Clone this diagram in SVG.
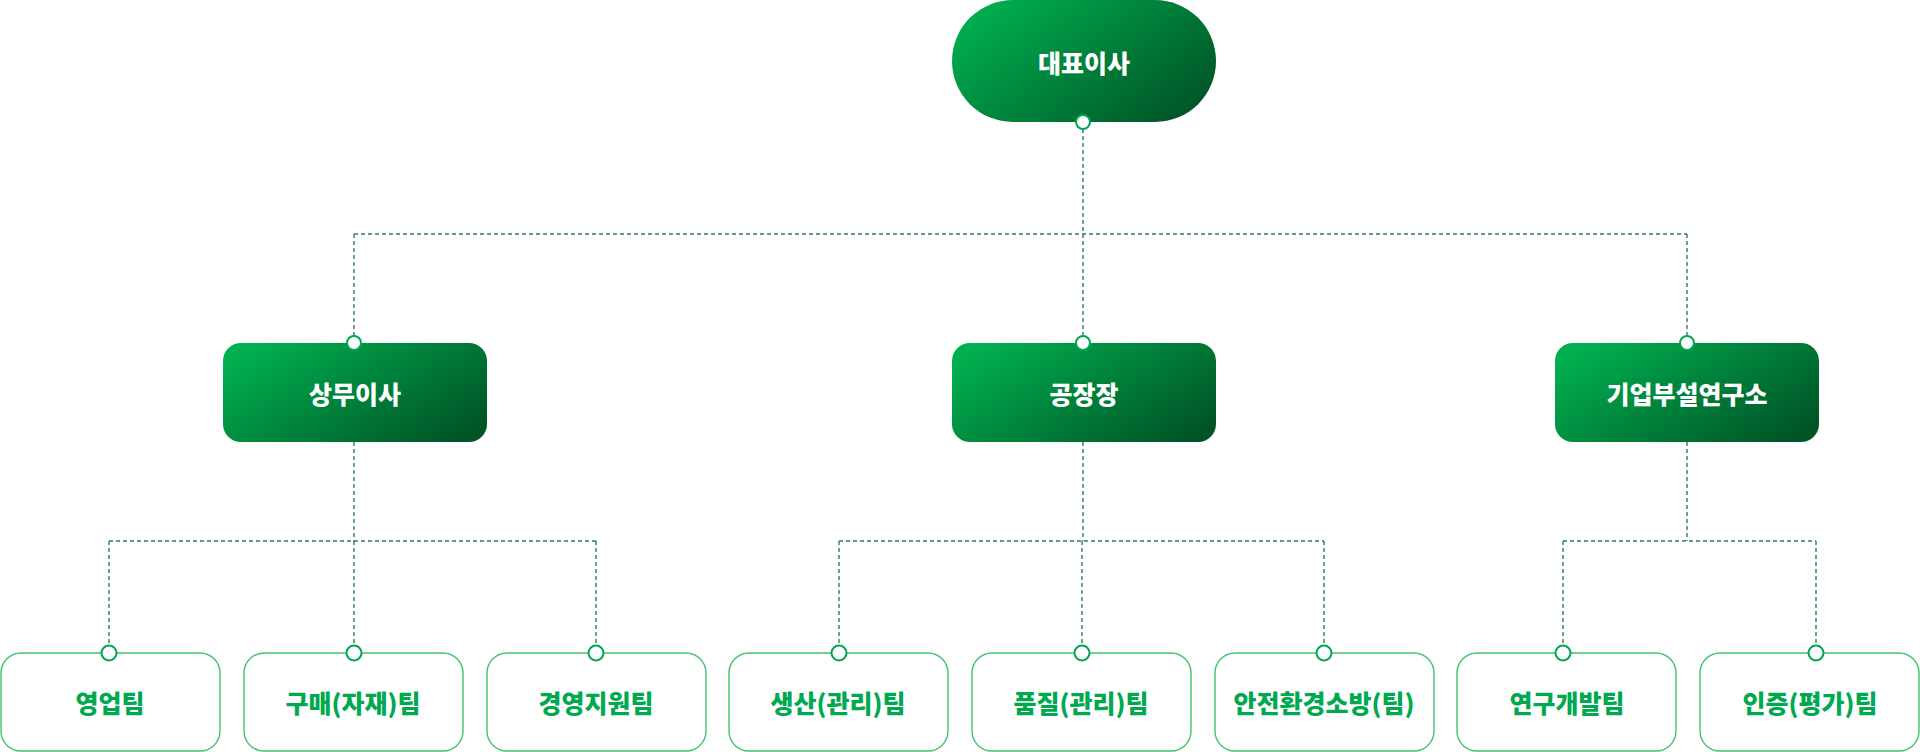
<svg xmlns="http://www.w3.org/2000/svg" width="1920" height="752" viewBox="0 0 1920 752">
<defs>
<linearGradient id="g" x1="0" y1="0.2" x2="1" y2="0.8">
<stop offset="0" stop-color="#00b050"/>
<stop offset="1" stop-color="#005426"/>
</linearGradient>
<style>
.main{fill:url(#g);}
.mt{font-family:"Noto Sans CJK KR","Noto Sans",sans-serif;font-weight:800;font-size:25px;fill:#ffffff;text-anchor:middle;dominant-baseline:central;}
.box{fill:#ffffff;stroke:#43c272;stroke-width:1.4;}
.bt{font-family:"Noto Sans CJK KR","Noto Sans",sans-serif;font-weight:800;font-size:25px;fill:#00a94f;text-anchor:middle;dominant-baseline:central;}
.ln{fill:none;stroke:#2f7d55;stroke-width:1.4;stroke-dasharray:4 3;}
.dot{fill:#ffffff;stroke:#00a651;stroke-width:2;}
</style>
</defs>
<rect width="1920" height="752" fill="#ffffff"/>
<g id="connectors">
<path class="ln" d="M1083 122V234M354 234H1687M354 234V343M1083 234V343M1687 234V343"/>
<path class="ln" d="M354 442V541M109 541H596M109 541V653M354 541V653M596 541V653"/>
<path class="ln" d="M1083 442V541M839 541H1324M839 541V653M1082 541V653M1324 541V653"/>
<path class="ln" d="M1687 442V541M1563 541H1816M1563 541V653M1816 541V653"/>
</g>
<g id="n-ceo"><rect class="main" x="952" y="0" width="264" height="122" rx="61"/><text class="mt" x="1084" y="62">대표이사</text><circle class="dot" cx="1083" cy="122" r="7"/></g>
<g id="n-sangmu"><rect class="main" x="223" y="343" width="264" height="99" rx="18"/><text class="mt" x="355" y="393">상무이사</text><circle class="dot" cx="354" cy="343" r="7"/></g>
<g id="n-factory"><rect class="main" x="952" y="343" width="264" height="99" rx="18"/><text class="mt" x="1084" y="393">공장장</text><circle class="dot" cx="1083" cy="343" r="7"/></g>
<g id="n-lab"><rect class="main" x="1555" y="343" width="264" height="99" rx="18"/><text class="mt" x="1687" y="393">기업부설연구소</text><circle class="dot" cx="1687" cy="343" r="7"/></g>
<g id="t1"><rect class="box" x="1" y="653" width="219" height="98" rx="20"/><text class="bt" x="110" y="702">영업팀</text><circle class="dot" cx="109" cy="653" r="7.5"/></g>
<g id="t2"><rect class="box" x="244" y="653" width="219" height="98" rx="20"/><text class="bt" x="353" y="702">구매(자재)팀</text><circle class="dot" cx="354" cy="653" r="7.5"/></g>
<g id="t3"><rect class="box" x="487" y="653" width="219" height="98" rx="20"/><text class="bt" x="596" y="702">경영지원팀</text><circle class="dot" cx="596" cy="653" r="7.5"/></g>
<g id="t4"><rect class="box" x="729" y="653" width="219" height="98" rx="20"/><text class="bt" x="838" y="702">생산(관리)팀</text><circle class="dot" cx="839" cy="653" r="7.5"/></g>
<g id="t5"><rect class="box" x="972" y="653" width="219" height="98" rx="20"/><text class="bt" x="1081" y="702">품질(관리)팀</text><circle class="dot" cx="1082" cy="653" r="7.5"/></g>
<g id="t6"><rect class="box" x="1215" y="653" width="219" height="98" rx="20"/><text class="bt" x="1324" y="702">안전환경소방(팀)</text><circle class="dot" cx="1324" cy="653" r="7.5"/></g>
<g id="t7"><rect class="box" x="1457" y="653" width="219" height="98" rx="20"/><text class="bt" x="1567" y="702">연구개발팀</text><circle class="dot" cx="1563" cy="653" r="7.5"/></g>
<g id="t8"><rect class="box" x="1700" y="653" width="219" height="98" rx="20"/><text class="bt" x="1810" y="702">인증(평가)팀</text><circle class="dot" cx="1816" cy="653" r="7.5"/></g>
</svg>
